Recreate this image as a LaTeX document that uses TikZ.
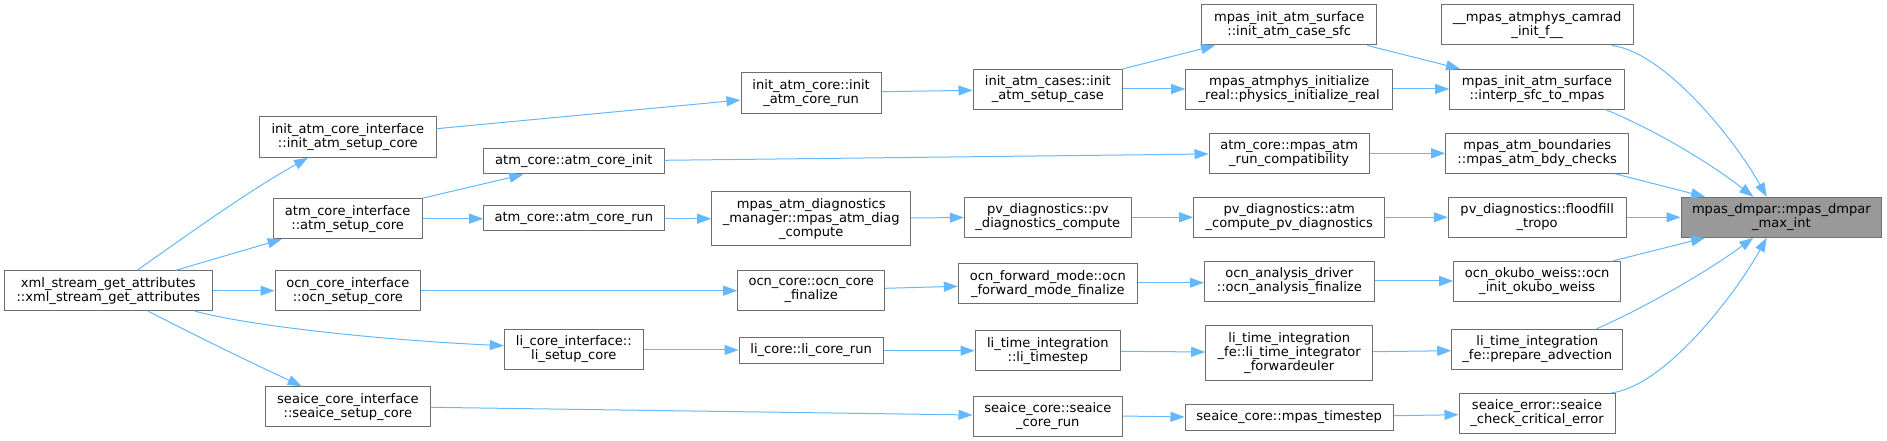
\documentclass[tikz,border=0pt]{standalone}
\usepackage{fontspec}
\setmainfont{DejaVu Sans}
\usetikzlibrary{arrows.meta,calc}
\definecolor{edgeblue}{HTML}{63B8FF}
\definecolor{boxgray}{HTML}{6E6E6E}
\definecolor{rootfill}{HTML}{999999}
\newcommand\mynode[7][]{\node[box,#1,minimum width={(#5-#3)*0.75pt},minimum height={(#6-#4)*0.75pt}] (#2) at ({(#3+#5)/2},{(#4+#6)/2}) {#7};}
\begin{document}
\begin{tikzpicture}[x=0.75pt,y=-0.75pt,
  box/.style={draw=boxgray,fill=white,rectangle,inner sep=0pt,align=center,line width=0.75pt,
    font=\fontsize{9.8}{10.5}\selectfont},
  root/.style={fill=rootfill},
  edge/.style={draw=edgeblue,line width=0.75pt,-{Triangle[length=10.5pt,width=7.5pt]}}]
\useasboundingbox (0,0) rectangle (1887,441);
% column 0
\mynode{xml}{4.7}{270.7}{212}{310.7}{xml\_stream\_get\_attributes\\::xml\_stream\_get\_attributes}
% column 1
\mynode{initif}{259.7}{117}{436}{157.3}{init\_atm\_core\_interface\\::init\_atm\_setup\_core}
\mynode{atmif}{273.3}{198.7}{422}{238.7}{atm\_core\_interface\\::atm\_setup\_core}
\mynode{ocnif}{275}{270.7}{420.7}{310.7}{ocn\_core\_interface\\::ocn\_setup\_core}
\mynode{seaiceif}{265.7}{386.7}{430}{426.7}{seaice\_core\_interface\\::seaice\_setup\_core}
% column 2
\mynode{atminit}{483.7}{148.7}{664}{174}{atm\_core::atm\_core\_init}
\mynode{atmrun}{483.7}{205.7}{664}{231}{atm\_core::atm\_core\_run}
\mynode{liif}{504.3}{329.3}{643.3}{369}{li\_core\_interface::\\li\_setup\_core}
% column 3
\mynode{initrun}{741}{73}{881.3}{113.3}{init\_atm\_core::init\\\_atm\_core\_run}
\mynode{diag}{711.7}{191.3}{910.7}{246}{mpas\_atm\_diagnostics\\\_manager::mpas\_atm\_diag\\\_compute}
\mynode{ocnfin}{737.7}{270.7}{884.7}{310.7}{ocn\_core::ocn\_core\\\_finalize}
\mynode{lirun}{739}{337.7}{883.3}{363.3}{li\_core::li\_core\_run}
% column 4
\mynode{setupcase}{973}{69.3}{1122.7}{109.3}{init\_atm\_cases::init\\\_atm\_setup\_case}
\mynode{pvcomp}{964.3}{197.3}{1131.3}{237.3}{pv\_diagnostics::pv\\\_diagnostics\_compute}
\mynode{fwdfin}{958.3}{264}{1137.3}{304}{ocn\_forward\_mode::ocn\\\_forward\_mode\_finalize}
\mynode{litimestep}{975}{330.7}{1120.7}{370.7}{li\_time\_integration\\::li\_timestep}
\mynode{seaicerun}{973}{396}{1122.7}{436}{seaice\_core::seaice\\\_core\_run}
% column 5
\mynode{casesfc}{1201.7}{5}{1376.7}{45}{mpas\_init\_atm\_surface\\::init\_atm\_case\_sfc}
\mynode{physinit}{1185.7}{69.3}{1392.7}{109.3}{mpas\_atmphys\_initialize\\\_real::physics\_initialize\_real}
\mynode{runcompat}{1209}{133.3}{1369.3}{173.3}{atm\_core::mpas\_atm\\\_run\_compatibility}
\mynode{atmpv}{1193.7}{197.3}{1384.7}{237.3}{pv\_diagnostics::atm\\\_compute\_pv\_diagnostics}
\mynode{ocnana}{1204.3}{261.3}{1374.3}{301.3}{ocn\_analysis\_driver\\::ocn\_analysis\_finalize}
\mynode{fwdeuler}{1205.7}{326}{1372.7}{380.7}{li\_time\_integration\\\_fe::li\_time\_integrator\\\_forwardeuler}
\mynode{mpastimestep}{1185}{404.7}{1393.3}{430}{seaice\_core::mpas\_timestep}
% column 6
\mynode{camrad}{1441}{5}{1633.3}{45}{\_\_mpas\_atmphys\_camrad\\\_init\_f\_\_}
\mynode{interp}{1449.7}{69.3}{1624.3}{109.3}{mpas\_init\_atm\_surface\\::interp\_sfc\_to\_mpas}
\mynode{bdy}{1445.7}{133.3}{1628.7}{173.3}{mpas\_atm\_boundaries\\::mpas\_atm\_bdy\_checks}
\mynode{flood}{1448.3}{197.3}{1626}{237.3}{pv\_diagnostics::floodfill\\\_tropo}
\mynode{okubo}{1453.7}{261.3}{1620.7}{301.3}{ocn\_okubo\_weiss::ocn\\\_init\_okubo\_weiss}
\mynode{prepadv}{1451.7}{329.3}{1622.7}{369.3}{li\_time\_integration\\\_fe::prepare\_advection}
\mynode{seaiceerr}{1459}{393.3}{1615}{433.3}{seaice\_error::seaice\\\_check\_critical\_error}
% root
\mynode[root]{target}{1681}{197.3}{1881.7}{237.3}{mpas\_dmpar::mpas\_dmpar\\\_max\_int}
% edges from xml
\draw[edge] (xml.north -| 137.3,0) .. controls (190,233) and (250,190) .. (initif.south -| 308,0);
\draw[edge] (xml.north -| 176,0) -- (atmif.south -| 281.7,0);
\draw[edge] (xml.east |- 0,290.7) -- (ocnif.west |- 0,290.7);
\draw[edge] (xml.south -| 195,0) .. controls (250,326) and (380,340) .. (liif.west |- 0,345.7);
\draw[edge] (xml.south -| 148.3,0) .. controls (200,338) and (250,362) .. (seaiceif.north -| 301.7,0);
% column 1 -> 2/3/4
\draw[edge] (initif.east |- 0,128.7) -- (initrun.west |- 0,100);
\draw[edge] (atmif.north east) -- (atminit.south -| 523.3,0);
\draw[edge] (atmif.east |- 0,218.7) -- (atmrun.west |- 0,218.7);
\draw[edge] (ocnif.east |- 0,290.7) -- (ocnfin.west |- 0,290.7);
\draw[edge] (liif.east |- 0,350) -- (lirun.west |- 0,350);
\draw[edge] (seaiceif.east |- 0,407.3) -- (seaicerun.west |- 0,415);
% column 2/3 -> next
\draw[edge] (atminit.east |- 0,160.3) -- (runcompat.west |- 0,154);
\draw[edge] (atmrun.east |- 0,218.7) -- (diag.west |- 0,218.7);
\draw[edge] (initrun.east |- 0,91.7) -- (setupcase.west |- 0,90.3);
\draw[edge] (diag.east |- 0,218) -- (pvcomp.west |- 0,217.5);
\draw[edge] (ocnfin.east |- 0,288.3) -- (fwdfin.west |- 0,286.3);
\draw[edge] (lirun.east |- 0,350.7) -- (litimestep.west |- 0,350.7);
\draw[edge] (seaicerun.east |- 0,416) -- (mpastimestep.west |- 0,417);
% column 4 -> 5
\draw[edge] (setupcase.north east) -- (casesfc.south -| 1215,0);
\draw[edge] (setupcase.east |- 0,89) -- (physinit.west |- 0,89);
\draw[edge] (pvcomp.east |- 0,217.3) -- (atmpv.west |- 0,217.3);
\draw[edge] (fwdfin.east |- 0,282.7) -- (ocnana.west |- 0,282.7);
\draw[edge] (litimestep.east |- 0,351.3) -- (fwdeuler.west |- 0,352);
% column 5 -> 6
\draw[edge] (casesfc.south -| 1367.3,0) -- (interp.north -| 1460,0);
\draw[edge] (physinit.east |- 0,89) -- (interp.west |- 0,89);
\draw[edge] (runcompat.east |- 0,153.3) -- (bdy.west |- 0,153.3);
\draw[edge] (atmpv.east |- 0,217.3) -- (flood.west |- 0,217.3);
\draw[edge] (ocnana.east |- 0,281) -- (okubo.west |- 0,281);
\draw[edge] (fwdeuler.east |- 0,351.7) -- (prepadv.west |- 0,350.7);
\draw[edge] (mpastimestep.east |- 0,415.7) -- (seaiceerr.west |- 0,414.7);
% column 6 -> root
\draw[edge] (camrad.south -| 1611.7,0) .. controls (1665,52) and (1735,140) .. (target.north -| 1766.7,0);
\draw[edge] (interp.south -| 1606,0) .. controls (1655,130) and (1710,163) .. (target.north -| 1753.3,0);
\draw[edge] (bdy.south -| 1615,0) -- (target.north -| 1705,0);
\draw[edge] (flood.east |- 0,217.3) -- (target.west |- 0,217.3);
\draw[edge] (okubo.north -| 1613.3,0) -- (target.south -| 1705,0);
\draw[edge] (prepadv.north -| 1596.7,0) .. controls (1648,306) and (1708,271) .. (target.south -| 1753.3,0);
\draw[edge] (seaiceerr.north -| 1611.7,0) .. controls (1665,386) and (1735,295) .. (target.south -| 1766.7,0);
\end{tikzpicture}
\end{document}
